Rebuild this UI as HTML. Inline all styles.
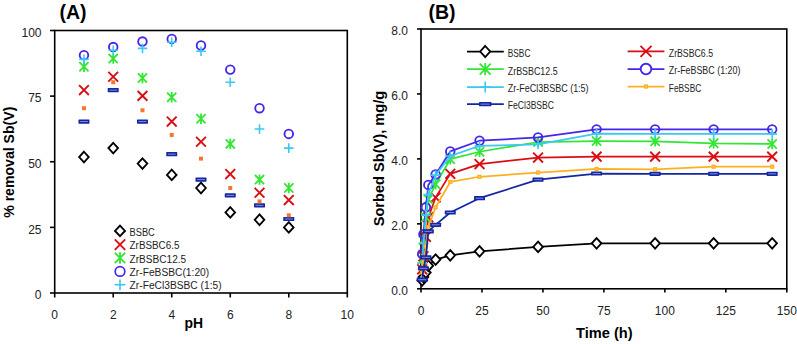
<!DOCTYPE html><html><head><meta charset="utf-8"><style>html,body{margin:0;padding:0;background:#fff;}svg{display:block;}text{font-family:"Liberation Sans",sans-serif;}</style></head><body>
<svg width="797" height="344" viewBox="0 0 797 344">
<rect width="797" height="344" fill="#fff"/>
<text x="59.5" y="19.2" font-size="19.5" font-weight="bold">(A)</text>
<rect x="54.7" y="30.5" width="292.60" height="262.50" fill="none" stroke="#000" stroke-width="1.6"/>
<line x1="50" y1="293.00" x2="54.7" y2="293.00" stroke="#000" stroke-width="1.6"/>
<text x="41.5" y="299.30" font-size="12" text-anchor="end" fill="#222">0</text>
<line x1="50" y1="227.38" x2="54.7" y2="227.38" stroke="#000" stroke-width="1.6"/>
<text x="41.5" y="233.68" font-size="12" text-anchor="end" fill="#222">25</text>
<line x1="50" y1="161.75" x2="54.7" y2="161.75" stroke="#000" stroke-width="1.6"/>
<text x="41.5" y="168.05" font-size="12" text-anchor="end" fill="#222">50</text>
<line x1="50" y1="96.12" x2="54.7" y2="96.12" stroke="#000" stroke-width="1.6"/>
<text x="41.5" y="102.42" font-size="12" text-anchor="end" fill="#222">75</text>
<line x1="50" y1="30.50" x2="54.7" y2="30.50" stroke="#000" stroke-width="1.6"/>
<text x="41.5" y="36.80" font-size="12" text-anchor="end" fill="#222">100</text>
<line x1="54.70" y1="293.0" x2="54.70" y2="297.5" stroke="#000" stroke-width="1.6"/>
<text x="54.70" y="319.3" font-size="12" text-anchor="middle" fill="#222">0</text>
<line x1="113.22" y1="293.0" x2="113.22" y2="297.5" stroke="#000" stroke-width="1.6"/>
<text x="113.22" y="319.3" font-size="12" text-anchor="middle" fill="#222">2</text>
<line x1="171.74" y1="293.0" x2="171.74" y2="297.5" stroke="#000" stroke-width="1.6"/>
<text x="171.74" y="319.3" font-size="12" text-anchor="middle" fill="#222">4</text>
<line x1="230.26" y1="293.0" x2="230.26" y2="297.5" stroke="#000" stroke-width="1.6"/>
<text x="230.26" y="319.3" font-size="12" text-anchor="middle" fill="#222">6</text>
<line x1="288.78" y1="293.0" x2="288.78" y2="297.5" stroke="#000" stroke-width="1.6"/>
<text x="288.78" y="319.3" font-size="12" text-anchor="middle" fill="#222">8</text>
<line x1="347.30" y1="293.0" x2="347.30" y2="297.5" stroke="#000" stroke-width="1.6"/>
<text x="347.30" y="319.3" font-size="12" text-anchor="middle" fill="#222">10</text>
<text x="184.6" y="327.5" font-size="14.8" font-weight="bold" textLength="18.6" lengthAdjust="spacingAndGlyphs">pH</text>
<text transform="translate(14.3 162.2) rotate(-90)" x="0" y="0" font-size="14.1" font-weight="bold" text-anchor="middle">% removal Sb(V)</text>
<path d="M83.96 151.75L88.76 157.03L83.96 162.31L79.16 157.03Z" fill="#fff" stroke="#000000" stroke-width="1.85"/>
<rect x="78.46" y="119.49" width="11.00" height="4.20" fill="#1426A2" rx="0.6"/><rect x="80.06" y="121.14" width="7.80" height="0.9" fill="#8A9AD8"/>
<rect x="81.96" y="106.20" width="4.00" height="4.00" fill="#F07830" stroke="none"/>
<path d="M79.06 85.19L88.86 94.99M88.86 85.19L79.06 94.99" stroke="#D80E14" stroke-width="1.9" fill="none"/>
<path d="M79.36 62.12L88.56 71.32M88.56 62.12L79.36 71.32M83.96 61.52L83.96 71.92" stroke="#33E633" stroke-width="1.8" fill="none"/>
<circle cx="83.96" cy="55.18" r="4.3" fill="none" stroke="#4626E8" stroke-width="1.85"/>
<path d="M79.16 59.38L88.76 59.38M83.96 54.58L83.96 64.17" stroke="#3CC8F0" stroke-width="1.6" fill="none"/>
<path d="M113.22 142.82L118.02 148.10L113.22 153.38L108.42 148.10Z" fill="#fff" stroke="#000000" stroke-width="1.85"/>
<rect x="107.72" y="87.99" width="11.00" height="4.20" fill="#1426A2" rx="0.6"/><rect x="109.32" y="89.64" width="7.80" height="0.9" fill="#8A9AD8"/>
<rect x="111.22" y="80.21" width="4.00" height="4.00" fill="#F07830" stroke="none"/>
<path d="M108.32 71.80L118.12 81.60M118.12 71.80L108.32 81.60" stroke="#D80E14" stroke-width="1.9" fill="none"/>
<path d="M108.62 53.99L117.82 63.19M117.82 53.99L108.62 63.19M113.22 53.39L113.22 63.79" stroke="#33E633" stroke-width="1.8" fill="none"/>
<circle cx="113.22" cy="47.04" r="4.3" fill="none" stroke="#4626E8" stroke-width="1.85"/>
<path d="M108.42 50.19L118.02 50.19M113.22 45.39L113.22 54.99" stroke="#3CC8F0" stroke-width="1.6" fill="none"/>
<path d="M142.48 158.31L147.28 163.59L142.48 168.87L137.68 163.59Z" fill="#fff" stroke="#000000" stroke-width="1.85"/>
<rect x="136.98" y="119.49" width="11.00" height="4.20" fill="#1426A2" rx="0.6"/><rect x="138.58" y="121.14" width="7.80" height="0.9" fill="#8A9AD8"/>
<rect x="140.48" y="108.30" width="4.00" height="4.00" fill="#F07830" stroke="none"/>
<path d="M137.58 90.96L147.38 100.76M147.38 90.96L137.58 100.76" stroke="#D80E14" stroke-width="1.9" fill="none"/>
<path d="M137.88 73.41L147.08 82.61M147.08 73.41L137.88 82.61M142.48 72.81L142.48 83.21" stroke="#33E633" stroke-width="1.8" fill="none"/>
<circle cx="142.48" cy="41.53" r="4.3" fill="none" stroke="#4626E8" stroke-width="1.85"/>
<path d="M137.68 48.35L147.28 48.35M142.48 43.55L142.48 53.15" stroke="#3CC8F0" stroke-width="1.6" fill="none"/>
<path d="M171.74 169.59L176.54 174.88L171.74 180.16L166.94 174.88Z" fill="#fff" stroke="#000000" stroke-width="1.85"/>
<rect x="166.24" y="152.04" width="11.00" height="4.20" fill="#1426A2" rx="0.6"/><rect x="167.84" y="153.69" width="7.80" height="0.9" fill="#8A9AD8"/>
<rect x="169.74" y="132.97" width="4.00" height="4.00" fill="#F07830" stroke="none"/>
<path d="M166.84 116.69L176.64 126.49M176.64 116.69L166.84 126.49" stroke="#D80E14" stroke-width="1.9" fill="none"/>
<path d="M167.14 92.58L176.34 101.78M176.34 92.58L167.14 101.78M171.74 91.98L171.74 102.38" stroke="#33E633" stroke-width="1.8" fill="none"/>
<circle cx="171.74" cy="38.90" r="4.3" fill="none" stroke="#4626E8" stroke-width="1.85"/>
<path d="M166.94 42.31L176.54 42.31M171.74 37.51L171.74 47.11" stroke="#3CC8F0" stroke-width="1.6" fill="none"/>
<path d="M201.00 182.72L205.80 188.00L201.00 193.28L196.20 188.00Z" fill="#fff" stroke="#000000" stroke-width="1.85"/>
<rect x="195.50" y="177.50" width="11.00" height="4.20" fill="#1426A2" rx="0.6"/><rect x="197.10" y="179.15" width="7.80" height="0.9" fill="#8A9AD8"/>
<rect x="199.00" y="156.60" width="4.00" height="4.00" fill="#F07830" stroke="none"/>
<path d="M196.10 136.90L205.90 146.70M205.90 136.90L196.10 146.70" stroke="#D80E14" stroke-width="1.9" fill="none"/>
<path d="M196.40 114.10L205.60 123.30M205.60 114.10L196.40 123.30M201.00 113.50L201.00 123.90" stroke="#33E633" stroke-width="1.8" fill="none"/>
<circle cx="201.00" cy="45.46" r="4.3" fill="none" stroke="#4626E8" stroke-width="1.85"/>
<path d="M196.20 51.24L205.80 51.24M201.00 46.44L201.00 56.04" stroke="#3CC8F0" stroke-width="1.6" fill="none"/>
<path d="M230.26 207.13L235.06 212.41L230.26 217.69L225.46 212.41Z" fill="#fff" stroke="#000000" stroke-width="1.85"/>
<rect x="224.76" y="193.25" width="11.00" height="4.20" fill="#1426A2" rx="0.6"/><rect x="226.36" y="194.90" width="7.80" height="0.9" fill="#8A9AD8"/>
<rect x="228.26" y="186.00" width="4.00" height="4.00" fill="#F07830" stroke="none"/>
<path d="M225.36 169.19L235.16 178.99M235.16 169.19L225.36 178.99" stroke="#D80E14" stroke-width="1.9" fill="none"/>
<path d="M225.66 139.30L234.86 148.50M234.86 139.30L225.66 148.50M230.26 138.70L230.26 149.10" stroke="#33E633" stroke-width="1.8" fill="none"/>
<circle cx="230.26" cy="69.61" r="4.3" fill="none" stroke="#4626E8" stroke-width="1.85"/>
<path d="M225.46 82.21L235.06 82.21M230.26 77.41L230.26 87.01" stroke="#3CC8F0" stroke-width="1.6" fill="none"/>
<path d="M259.52 214.48L264.32 219.76L259.52 225.04L254.72 219.76Z" fill="#fff" stroke="#000000" stroke-width="1.85"/>
<rect x="254.02" y="203.22" width="11.00" height="4.20" fill="#1426A2" rx="0.6"/><rect x="255.62" y="204.88" width="7.80" height="0.9" fill="#8A9AD8"/>
<rect x="257.52" y="199.39" width="4.00" height="4.00" fill="#F07830" stroke="none"/>
<path d="M254.62 187.82L264.42 197.62M264.42 187.82L254.62 197.62" stroke="#D80E14" stroke-width="1.9" fill="none"/>
<path d="M254.92 175.00L264.12 184.20M264.12 175.00L254.92 184.20M259.52 174.40L259.52 184.80" stroke="#33E633" stroke-width="1.8" fill="none"/>
<circle cx="259.52" cy="108.20" r="4.3" fill="none" stroke="#4626E8" stroke-width="1.85"/>
<path d="M254.72 128.94L264.32 128.94M259.52 124.14L259.52 133.74" stroke="#3CC8F0" stroke-width="1.6" fill="none"/>
<path d="M288.78 222.09L293.58 227.38L288.78 232.66L283.98 227.38Z" fill="#fff" stroke="#000000" stroke-width="1.85"/>
<rect x="283.28" y="216.88" width="11.00" height="4.20" fill="#1426A2" rx="0.6"/><rect x="284.88" y="218.53" width="7.80" height="0.9" fill="#8A9AD8"/>
<rect x="286.78" y="213.30" width="4.00" height="4.00" fill="#F07830" stroke="none"/>
<path d="M283.88 195.17L293.68 204.97M293.68 195.17L283.88 204.97" stroke="#D80E14" stroke-width="1.9" fill="none"/>
<path d="M284.18 183.40L293.38 192.60M293.38 183.40L284.18 192.60M288.78 182.80L288.78 193.20" stroke="#33E633" stroke-width="1.8" fill="none"/>
<circle cx="288.78" cy="133.93" r="4.3" fill="none" stroke="#4626E8" stroke-width="1.85"/>
<path d="M283.98 148.10L293.58 148.10M288.78 143.30L288.78 152.90" stroke="#3CC8F0" stroke-width="1.6" fill="none"/>
<path d="M120.00 225.60L125.00 230.90L120.00 236.20L115.00 230.90Z" fill="#fff" stroke="#000000" stroke-width="1.9"/>
<text x="129.6" y="236.20" font-size="10" fill="#222" textLength="25.2" lengthAdjust="spacingAndGlyphs">BSBC</text>
<path d="M114.80 239.40L125.20 249.80M125.20 239.40L114.80 249.80" stroke="#D80E14" stroke-width="1.9" fill="none"/>
<text x="129.6" y="249.20" font-size="10" fill="#222" textLength="49.8" lengthAdjust="spacingAndGlyphs">ZrBSBC6.5</text>
<path d="M114.80 252.80L125.20 263.20M125.20 252.80L114.80 263.20M120.00 252.20L120.00 263.80" stroke="#33E633" stroke-width="1.8" fill="none"/>
<text x="129.6" y="262.60" font-size="10" fill="#222" textLength="56.6" lengthAdjust="spacingAndGlyphs">ZrBSBC12.5</text>
<circle cx="120.00" cy="271.40" r="4.8" fill="none" stroke="#4626E8" stroke-width="1.7"/>
<text x="129.6" y="276.00" font-size="10" fill="#222" textLength="79.6" lengthAdjust="spacingAndGlyphs">Zr-FeBSBC(1:20)</text>
<path d="M114.60 284.80L125.40 284.80M120.00 279.40L120.00 290.20" stroke="#3CC8F0" stroke-width="1.6" fill="none"/>
<text x="129.6" y="289.40" font-size="10" fill="#222" textLength="92.0" lengthAdjust="spacingAndGlyphs">Zr-FeCl3BSBC (1:5)</text>
<text x="428.5" y="19.0" font-size="19.5" font-weight="bold">(B)</text>
<rect x="421.0" y="29.0" width="365.80" height="259.80" fill="none" stroke="#000" stroke-width="1.6"/>
<line x1="417" y1="288.80" x2="421.0" y2="288.80" stroke="#000" stroke-width="1.6"/>
<text x="408" y="294.80" font-size="12" text-anchor="end" fill="#222">0.0</text>
<line x1="417" y1="223.85" x2="421.0" y2="223.85" stroke="#000" stroke-width="1.6"/>
<text x="408" y="229.85" font-size="12" text-anchor="end" fill="#222">2.0</text>
<line x1="417" y1="158.90" x2="421.0" y2="158.90" stroke="#000" stroke-width="1.6"/>
<text x="408" y="164.90" font-size="12" text-anchor="end" fill="#222">4.0</text>
<line x1="417" y1="93.95" x2="421.0" y2="93.95" stroke="#000" stroke-width="1.6"/>
<text x="408" y="99.95" font-size="12" text-anchor="end" fill="#222">6.0</text>
<line x1="417" y1="29.00" x2="421.0" y2="29.00" stroke="#000" stroke-width="1.6"/>
<text x="408" y="35.00" font-size="12" text-anchor="end" fill="#222">8.0</text>
<line x1="421.00" y1="288.8" x2="421.00" y2="292.5" stroke="#000" stroke-width="1.6"/>
<text x="421.00" y="314.8" font-size="12" text-anchor="middle" fill="#222">0</text>
<line x1="481.97" y1="288.8" x2="481.97" y2="292.5" stroke="#000" stroke-width="1.6"/>
<text x="481.97" y="314.8" font-size="12" text-anchor="middle" fill="#222">25</text>
<line x1="542.93" y1="288.8" x2="542.93" y2="292.5" stroke="#000" stroke-width="1.6"/>
<text x="542.93" y="314.8" font-size="12" text-anchor="middle" fill="#222">50</text>
<line x1="603.90" y1="288.8" x2="603.90" y2="292.5" stroke="#000" stroke-width="1.6"/>
<text x="603.90" y="314.8" font-size="12" text-anchor="middle" fill="#222">75</text>
<line x1="664.87" y1="288.8" x2="664.87" y2="292.5" stroke="#000" stroke-width="1.6"/>
<text x="664.87" y="314.8" font-size="12" text-anchor="middle" fill="#222">100</text>
<line x1="725.83" y1="288.8" x2="725.83" y2="292.5" stroke="#000" stroke-width="1.6"/>
<text x="725.83" y="314.8" font-size="12" text-anchor="middle" fill="#222">125</text>
<line x1="786.80" y1="288.8" x2="786.80" y2="292.5" stroke="#000" stroke-width="1.6"/>
<text x="786.80" y="314.8" font-size="12" text-anchor="middle" fill="#222">150</text>
<text x="576.0" y="338.2" font-size="15" font-weight="bold" textLength="56.6" lengthAdjust="spacingAndGlyphs">Time (h)</text>
<text transform="translate(383.6 158.6) rotate(-90)" x="0" y="0" font-size="14.6" font-weight="bold" text-anchor="middle">Sorbed Sb(V), mg/g</text>
<polyline points="422.22,280.36 423.44,277.11 425.88,272.56 428.32,265.74 435.63,259.57 450.26,255.35 479.53,251.29 538.06,246.91 596.58,243.34 655.11,243.34 713.64,243.34 772.17,243.34" fill="none" stroke="#000000" stroke-width="1.75" stroke-linejoin="round"/>
<path d="M422.22 275.08L427.02 280.36L422.22 285.64L417.42 280.36Z" fill="#fff" stroke="#000000" stroke-width="1.85"/>
<path d="M423.44 271.83L428.24 277.11L423.44 282.39L418.64 277.11Z" fill="#fff" stroke="#000000" stroke-width="1.85"/>
<path d="M425.88 267.28L430.68 272.56L425.88 277.84L421.08 272.56Z" fill="#fff" stroke="#000000" stroke-width="1.85"/>
<path d="M428.32 260.46L433.12 265.74L428.32 271.02L423.52 265.74Z" fill="#fff" stroke="#000000" stroke-width="1.85"/>
<path d="M435.63 254.29L440.43 259.57L435.63 264.85L430.83 259.57Z" fill="#fff" stroke="#000000" stroke-width="1.85"/>
<path d="M450.26 250.07L455.06 255.35L450.26 260.63L445.46 255.35Z" fill="#fff" stroke="#000000" stroke-width="1.85"/>
<path d="M479.53 246.01L484.33 251.29L479.53 256.57L474.73 251.29Z" fill="#fff" stroke="#000000" stroke-width="1.85"/>
<path d="M538.06 241.63L542.86 246.91L538.06 252.19L533.26 246.91Z" fill="#fff" stroke="#000000" stroke-width="1.85"/>
<path d="M596.58 238.06L601.38 243.34L596.58 248.62L591.78 243.34Z" fill="#fff" stroke="#000000" stroke-width="1.85"/>
<path d="M655.11 238.06L659.91 243.34L655.11 248.62L650.31 243.34Z" fill="#fff" stroke="#000000" stroke-width="1.85"/>
<path d="M713.64 238.06L718.44 243.34L713.64 248.62L708.84 243.34Z" fill="#fff" stroke="#000000" stroke-width="1.85"/>
<path d="M772.17 238.06L776.97 243.34L772.17 248.62L767.37 243.34Z" fill="#fff" stroke="#000000" stroke-width="1.85"/>
<polyline points="422.22,269.31 423.44,256.32 425.88,236.84 428.32,217.36 435.63,197.55 450.26,173.84 479.53,164.10 538.06,157.60 596.58,156.63 655.11,156.63 713.64,156.63 772.17,156.63" fill="none" stroke="#D80E14" stroke-width="1.75" stroke-linejoin="round"/>
<path d="M417.32 264.42L427.12 274.21M427.12 264.42L417.32 274.21" stroke="#D80E14" stroke-width="1.9" fill="none"/>
<path d="M418.54 251.42L428.34 261.22M428.34 251.42L418.54 261.22" stroke="#D80E14" stroke-width="1.9" fill="none"/>
<path d="M420.98 231.94L430.78 241.74M430.78 231.94L420.98 241.74" stroke="#D80E14" stroke-width="1.9" fill="none"/>
<path d="M423.42 212.46L433.22 222.26M433.22 212.46L423.42 222.26" stroke="#D80E14" stroke-width="1.9" fill="none"/>
<path d="M430.73 192.65L440.53 202.45M440.53 192.65L430.73 202.45" stroke="#D80E14" stroke-width="1.9" fill="none"/>
<path d="M445.36 168.94L455.16 178.74M455.16 168.94L445.36 178.74" stroke="#D80E14" stroke-width="1.9" fill="none"/>
<path d="M474.63 159.20L484.43 169.00M484.43 159.20L474.63 169.00" stroke="#D80E14" stroke-width="1.9" fill="none"/>
<path d="M533.16 152.70L542.96 162.50M542.96 152.70L533.16 162.50" stroke="#D80E14" stroke-width="1.9" fill="none"/>
<path d="M591.68 151.73L601.48 161.53M601.48 151.73L591.68 161.53" stroke="#D80E14" stroke-width="1.9" fill="none"/>
<path d="M650.21 151.73L660.01 161.53M660.01 151.73L650.21 161.53" stroke="#D80E14" stroke-width="1.9" fill="none"/>
<path d="M708.74 151.73L718.54 161.53M718.54 151.73L708.74 161.53" stroke="#D80E14" stroke-width="1.9" fill="none"/>
<path d="M767.27 151.73L777.07 161.53M777.07 151.73L767.27 161.53" stroke="#D80E14" stroke-width="1.9" fill="none"/>
<polyline points="422.22,259.57 423.44,240.09 425.88,217.36 428.32,199.17 435.63,184.23 450.26,159.22 479.53,151.76 538.06,142.01 596.58,141.04 655.11,141.36 713.64,143.31 772.17,143.96" fill="none" stroke="#33E633" stroke-width="1.75" stroke-linejoin="round"/>
<path d="M417.62 254.97L426.82 264.17M426.82 254.97L417.62 264.17M422.22 254.37L422.22 264.77" stroke="#33E633" stroke-width="1.8" fill="none"/>
<path d="M418.84 235.49L428.04 244.69M428.04 235.49L418.84 244.69M423.44 234.89L423.44 245.29" stroke="#33E633" stroke-width="1.8" fill="none"/>
<path d="M421.28 212.76L430.48 221.96M430.48 212.76L421.28 221.96M425.88 212.16L425.88 222.56" stroke="#33E633" stroke-width="1.8" fill="none"/>
<path d="M423.72 194.57L432.92 203.77M432.92 194.57L423.72 203.77M428.32 193.97L428.32 204.37" stroke="#33E633" stroke-width="1.8" fill="none"/>
<path d="M431.03 179.63L440.23 188.83M440.23 179.63L431.03 188.83M435.63 179.03L435.63 189.43" stroke="#33E633" stroke-width="1.8" fill="none"/>
<path d="M445.66 154.62L454.86 163.82M454.86 154.62L445.66 163.82M450.26 154.02L450.26 164.42" stroke="#33E633" stroke-width="1.8" fill="none"/>
<path d="M474.93 147.16L484.13 156.36M484.13 147.16L474.93 156.36M479.53 146.56L479.53 156.96" stroke="#33E633" stroke-width="1.8" fill="none"/>
<path d="M533.46 137.41L542.66 146.61M542.66 137.41L533.46 146.61M538.06 136.81L538.06 147.21" stroke="#33E633" stroke-width="1.8" fill="none"/>
<path d="M591.98 136.44L601.18 145.64M601.18 136.44L591.98 145.64M596.58 135.84L596.58 146.24" stroke="#33E633" stroke-width="1.8" fill="none"/>
<path d="M650.51 136.76L659.71 145.96M659.71 136.76L650.51 145.96M655.11 136.16L655.11 146.56" stroke="#33E633" stroke-width="1.8" fill="none"/>
<path d="M709.04 138.71L718.24 147.91M718.24 138.71L709.04 147.91M713.64 138.11L713.64 148.51" stroke="#33E633" stroke-width="1.8" fill="none"/>
<path d="M767.57 139.36L776.77 148.56M776.77 139.36L767.57 148.56M772.17 138.76L772.17 149.16" stroke="#33E633" stroke-width="1.8" fill="none"/>
<polyline points="422.22,254.05 423.44,234.24 425.88,207.29 428.32,184.88 435.63,174.49 450.26,151.43 479.53,140.71 538.06,137.47 596.58,129.35 655.11,129.35 713.64,129.35 772.17,129.35" fill="none" stroke="#4626E8" stroke-width="1.75" stroke-linejoin="round"/>
<circle cx="422.22" cy="254.05" r="4.3" fill="none" stroke="#4626E8" stroke-width="1.85"/>
<circle cx="423.44" cy="234.24" r="4.3" fill="none" stroke="#4626E8" stroke-width="1.85"/>
<circle cx="425.88" cy="207.29" r="4.3" fill="none" stroke="#4626E8" stroke-width="1.85"/>
<circle cx="428.32" cy="184.88" r="4.3" fill="none" stroke="#4626E8" stroke-width="1.85"/>
<circle cx="435.63" cy="174.49" r="4.3" fill="none" stroke="#4626E8" stroke-width="1.85"/>
<circle cx="450.26" cy="151.43" r="4.3" fill="none" stroke="#4626E8" stroke-width="1.85"/>
<circle cx="479.53" cy="140.71" r="4.3" fill="none" stroke="#4626E8" stroke-width="1.85"/>
<circle cx="538.06" cy="137.47" r="4.3" fill="none" stroke="#4626E8" stroke-width="1.85"/>
<circle cx="596.58" cy="129.35" r="4.3" fill="none" stroke="#4626E8" stroke-width="1.85"/>
<circle cx="655.11" cy="129.35" r="4.3" fill="none" stroke="#4626E8" stroke-width="1.85"/>
<circle cx="713.64" cy="129.35" r="4.3" fill="none" stroke="#4626E8" stroke-width="1.85"/>
<circle cx="772.17" cy="129.35" r="4.3" fill="none" stroke="#4626E8" stroke-width="1.85"/>
<polyline points="422.22,262.82 423.44,243.34 425.88,215.08 428.32,194.62 435.63,175.14 450.26,155.98 479.53,145.91 538.06,144.29 596.58,133.57 655.11,133.89 713.64,133.89 772.17,133.89" fill="none" stroke="#3CC8F0" stroke-width="1.75" stroke-linejoin="round"/>
<path d="M417.42 262.82L427.02 262.82M422.22 258.02L422.22 267.62" stroke="#3CC8F0" stroke-width="1.6" fill="none"/>
<path d="M418.64 243.34L428.24 243.34M423.44 238.53L423.44 248.14" stroke="#3CC8F0" stroke-width="1.6" fill="none"/>
<path d="M421.08 215.08L430.68 215.08M425.88 210.28L425.88 219.88" stroke="#3CC8F0" stroke-width="1.6" fill="none"/>
<path d="M423.52 194.62L433.12 194.62M428.32 189.82L428.32 199.42" stroke="#3CC8F0" stroke-width="1.6" fill="none"/>
<path d="M430.83 175.14L440.43 175.14M435.63 170.34L435.63 179.94" stroke="#3CC8F0" stroke-width="1.6" fill="none"/>
<path d="M445.46 155.98L455.06 155.98M450.26 151.18L450.26 160.78" stroke="#3CC8F0" stroke-width="1.6" fill="none"/>
<path d="M474.73 145.91L484.33 145.91M479.53 141.11L479.53 150.71" stroke="#3CC8F0" stroke-width="1.6" fill="none"/>
<path d="M533.26 144.29L542.86 144.29M538.06 139.49L538.06 149.09" stroke="#3CC8F0" stroke-width="1.6" fill="none"/>
<path d="M591.78 133.57L601.38 133.57M596.58 128.77L596.58 138.37" stroke="#3CC8F0" stroke-width="1.6" fill="none"/>
<path d="M650.31 133.89L659.91 133.89M655.11 129.09L655.11 138.69" stroke="#3CC8F0" stroke-width="1.6" fill="none"/>
<path d="M708.84 133.89L718.44 133.89M713.64 129.09L713.64 138.69" stroke="#3CC8F0" stroke-width="1.6" fill="none"/>
<path d="M767.37 133.89L776.97 133.89M772.17 129.09L772.17 138.69" stroke="#3CC8F0" stroke-width="1.6" fill="none"/>
<polyline points="422.22,272.56 423.44,262.82 425.88,246.58 428.32,227.10 435.63,207.29 450.26,181.96 479.53,176.76 538.06,172.54 596.58,168.97 655.11,169.29 713.64,166.69 772.17,166.69" fill="none" stroke="#FFB020" stroke-width="1.75" stroke-linejoin="round"/>
<rect x="420.12" y="270.46" width="4.20" height="4.20" fill="#FFB020"/><rect x="421.42" y="271.76" width="1.6" height="1.6" fill="#FFD060"/>
<rect x="421.34" y="260.72" width="4.20" height="4.20" fill="#FFB020"/><rect x="422.64" y="262.02" width="1.6" height="1.6" fill="#FFD060"/>
<rect x="423.78" y="244.48" width="4.20" height="4.20" fill="#FFB020"/><rect x="425.08" y="245.78" width="1.6" height="1.6" fill="#FFD060"/>
<rect x="426.22" y="225.00" width="4.20" height="4.20" fill="#FFB020"/><rect x="427.52" y="226.30" width="1.6" height="1.6" fill="#FFD060"/>
<rect x="433.53" y="205.19" width="4.20" height="4.20" fill="#FFB020"/><rect x="434.83" y="206.49" width="1.6" height="1.6" fill="#FFD060"/>
<rect x="448.16" y="179.86" width="4.20" height="4.20" fill="#FFB020"/><rect x="449.46" y="181.16" width="1.6" height="1.6" fill="#FFD060"/>
<rect x="477.43" y="174.66" width="4.20" height="4.20" fill="#FFB020"/><rect x="478.73" y="175.96" width="1.6" height="1.6" fill="#FFD060"/>
<rect x="535.96" y="170.44" width="4.20" height="4.20" fill="#FFB020"/><rect x="537.26" y="171.74" width="1.6" height="1.6" fill="#FFD060"/>
<rect x="594.48" y="166.87" width="4.20" height="4.20" fill="#FFB020"/><rect x="595.78" y="168.17" width="1.6" height="1.6" fill="#FFD060"/>
<rect x="653.01" y="167.19" width="4.20" height="4.20" fill="#FFB020"/><rect x="654.31" y="168.49" width="1.6" height="1.6" fill="#FFD060"/>
<rect x="711.54" y="164.59" width="4.20" height="4.20" fill="#FFB020"/><rect x="712.84" y="165.89" width="1.6" height="1.6" fill="#FFD060"/>
<rect x="770.07" y="164.59" width="4.20" height="4.20" fill="#FFB020"/><rect x="771.37" y="165.89" width="1.6" height="1.6" fill="#FFD060"/>
<polyline points="422.22,279.71 423.44,268.34 425.88,257.30 428.32,231.32 435.63,224.82 450.26,212.48 479.53,198.19 538.06,179.68 596.58,173.51 655.11,173.84 713.64,173.84 772.17,173.84" fill="none" stroke="#1426A2" stroke-width="1.75" stroke-linejoin="round"/>
<rect x="416.72" y="277.61" width="11.00" height="4.20" fill="#1426A2" rx="0.6"/><rect x="418.32" y="279.26" width="7.80" height="0.9" fill="#8A9AD8"/>
<rect x="417.94" y="266.24" width="11.00" height="4.20" fill="#1426A2" rx="0.6"/><rect x="419.54" y="267.89" width="7.80" height="0.9" fill="#8A9AD8"/>
<rect x="420.38" y="255.20" width="11.00" height="4.20" fill="#1426A2" rx="0.6"/><rect x="421.98" y="256.85" width="7.80" height="0.9" fill="#8A9AD8"/>
<rect x="422.82" y="229.22" width="11.00" height="4.20" fill="#1426A2" rx="0.6"/><rect x="424.42" y="230.87" width="7.80" height="0.9" fill="#8A9AD8"/>
<rect x="430.13" y="222.72" width="11.00" height="4.20" fill="#1426A2" rx="0.6"/><rect x="431.73" y="224.37" width="7.80" height="0.9" fill="#8A9AD8"/>
<rect x="444.76" y="210.38" width="11.00" height="4.20" fill="#1426A2" rx="0.6"/><rect x="446.36" y="212.03" width="7.80" height="0.9" fill="#8A9AD8"/>
<rect x="474.03" y="196.09" width="11.00" height="4.20" fill="#1426A2" rx="0.6"/><rect x="475.63" y="197.74" width="7.80" height="0.9" fill="#8A9AD8"/>
<rect x="532.56" y="177.58" width="11.00" height="4.20" fill="#1426A2" rx="0.6"/><rect x="534.16" y="179.23" width="7.80" height="0.9" fill="#8A9AD8"/>
<rect x="591.08" y="171.41" width="11.00" height="4.20" fill="#1426A2" rx="0.6"/><rect x="592.68" y="173.06" width="7.80" height="0.9" fill="#8A9AD8"/>
<rect x="649.61" y="171.74" width="11.00" height="4.20" fill="#1426A2" rx="0.6"/><rect x="651.21" y="173.39" width="7.80" height="0.9" fill="#8A9AD8"/>
<rect x="708.14" y="171.74" width="11.00" height="4.20" fill="#1426A2" rx="0.6"/><rect x="709.74" y="173.39" width="7.80" height="0.9" fill="#8A9AD8"/>
<rect x="766.67" y="171.74" width="11.00" height="4.20" fill="#1426A2" rx="0.6"/><rect x="768.27" y="173.39" width="7.80" height="0.9" fill="#8A9AD8"/>
<line x1="467" y1="51.5" x2="503.8" y2="51.5" stroke="#000000" stroke-width="1.75"/>
<path d="M485.20 46.00L490.20 51.50L485.20 57.00L480.20 51.50Z" fill="#fff" stroke="#000000" stroke-width="1.85"/>
<text x="507.8" y="56.80" font-size="10.3" fill="#222" textLength="22.6" lengthAdjust="spacingAndGlyphs">BSBC</text>
<line x1="467" y1="69.2" x2="503.8" y2="69.2" stroke="#33E633" stroke-width="1.75"/>
<path d="M479.70 63.70L490.70 74.70M490.70 63.70L479.70 74.70M485.20 63.10L485.20 75.30" stroke="#33E633" stroke-width="1.8" fill="none"/>
<text x="507.8" y="74.50" font-size="10.3" fill="#222" textLength="49.8" lengthAdjust="spacingAndGlyphs">ZrBSBC12.5</text>
<line x1="467" y1="87.0" x2="503.8" y2="87.0" stroke="#3CC8F0" stroke-width="1.75"/>
<path d="M479.70 87.00L490.70 87.00M485.20 81.50L485.20 92.50" stroke="#3CC8F0" stroke-width="1.6" fill="none"/>
<text x="507.8" y="92.30" font-size="10.3" fill="#222" textLength="80.8" lengthAdjust="spacingAndGlyphs">Zr-FeCl3BSBC (1:5)</text>
<line x1="467" y1="104.1" x2="503.8" y2="104.1" stroke="#1426A2" stroke-width="1.75"/>
<rect x="479.00" y="102.00" width="12.40" height="4.20" fill="#1426A2" rx="0.6"/><rect x="480.60" y="103.65" width="9.20" height="0.9" fill="#8A9AD8"/>
<text x="507.8" y="109.40" font-size="10.3" fill="#222" textLength="46.2" lengthAdjust="spacingAndGlyphs">FeCl3BSBC</text>
<line x1="627.6" y1="51.4" x2="664.4" y2="51.4" stroke="#D80E14" stroke-width="1.75"/>
<path d="M640.50 45.90L651.50 56.90M651.50 45.90L640.50 56.90" stroke="#D80E14" stroke-width="1.9" fill="none"/>
<text x="668.8" y="56.70" font-size="10.3" fill="#222" textLength="44.2" lengthAdjust="spacingAndGlyphs">ZrBSBC6.5</text>
<line x1="627.6" y1="69.0" x2="664.4" y2="69.0" stroke="#4626E8" stroke-width="1.75"/>
<circle cx="646.00" cy="69.00" r="5.3" fill="#fff" stroke="#4626E8" stroke-width="1.85"/>
<text x="668.8" y="74.30" font-size="10.3" fill="#222" textLength="71.6" lengthAdjust="spacingAndGlyphs">Zr-FeBSBC (1:20)</text>
<line x1="627.6" y1="86.5" x2="664.4" y2="86.5" stroke="#FFB020" stroke-width="1.75"/>
<rect x="643.90" y="84.40" width="4.20" height="4.20" fill="#FFB020"/><rect x="645.20" y="85.70" width="1.6" height="1.6" fill="#FFD060"/>
<text x="668.8" y="91.80" font-size="10.3" fill="#222" textLength="32.5" lengthAdjust="spacingAndGlyphs">FeBSBC</text>
</svg></body></html>
